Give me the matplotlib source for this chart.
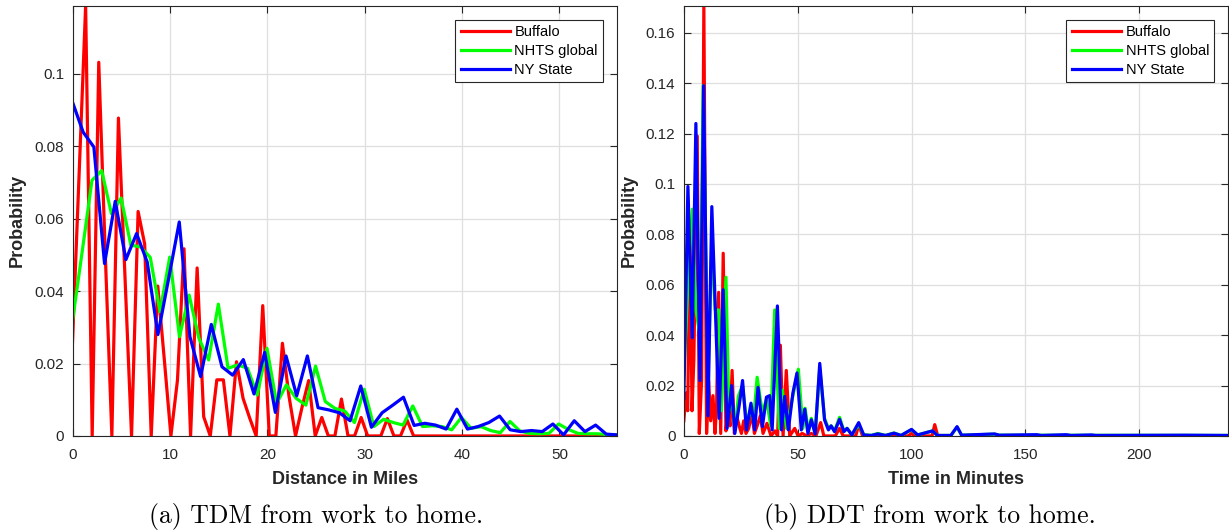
import numpy as np
import matplotlib
matplotlib.use("Agg")
import matplotlib.pyplot as plt

plt.rcParams['font.family'] = ['Liberation Sans', 'DejaVu Sans']

# ---- (a) TDM from work to home: distance in miles ----
dist_max = 55.9
buffalo_tdm = [0.026, 0.072, 0.1188, 0, 0.1032, 0.05, 0, 0.0878, 0.044, 0,
               0.062, 0.053, 0, 0.0414, 0.021, 0, 0.0154, 0.0517, 0, 0.0464,
               0.0053, 0, 0.0155, 0.0155, 0, 0.0205, 0.0104, 0.005, 0, 0.0360,
               0, 0, 0.0256, 0.011, 0, 0.008, 0.0153, 0, 0.0051, 0,
               0, 0.0102, 0, 0, 0.0051, 0, 0, 0, 0.0048, 0,
               0, 0.0044] + [0] * 32
nhts_tdm = [0.0318, 0.051, 0.0706, 0.0733, 0.0614, 0.0657, 0.0527, 0.0522, 0.0493, 0.0343,
            0.0494, 0.0274, 0.0389, 0.027, 0.021, 0.0364, 0.0187, 0.0196, 0.0187, 0.0113,
            0.0242, 0.009, 0.0141, 0.0104, 0.0085, 0.0193, 0.0095, 0.0076, 0.0069, 0.0037,
            0.0129, 0.0026, 0.0046, 0.0037, 0.003, 0.0083, 0.0026, 0.0028, 0.0026, 0.0017,
            0.0051, 0.0021, 0.0026, 0.0015, 0.0009, 0.004, 0.0014, 0.0007, 0.0006, 0.0007,
            0.0033, 0.0018, 0.0007, 0.0006, 0.0006, 0.0004, 0.0003]
nys_tdm = [0.0922, 0.0839, 0.0798, 0.0476, 0.0648, 0.0487, 0.0559, 0.048, 0.028, 0.0434,
           0.0591, 0.0274, 0.0164, 0.0308, 0.0191, 0.0168, 0.0211, 0.0116, 0.0231, 0.0065,
           0.0221, 0.0111, 0.0221, 0.0078, 0.0072, 0.0064, 0.0042, 0.0138, 0.0024, 0.0064,
           0.0085, 0.0107, 0.0029, 0.0035, 0.003, 0.0019, 0.0074, 0.0019, 0.0026, 0.0037,
           0.0055, 0.0017, 0.0012, 0.0015, 0.0012, 0.0033, 0.0003, 0.0042, 0.0012, 0.003,
           0.0005, 0.0003]
x_buffalo_tdm = np.linspace(0, dist_max, len(buffalo_tdm))
x_nhts_tdm = np.linspace(0, dist_max, len(nhts_tdm))
x_nys_tdm = np.linspace(0, dist_max, len(nys_tdm))

# ---- (b) DDT from work to home: time in minutes ----
t_buffalo = [0, 1.0, 1.7, 2.7, 3.6, 4.4, 5.9, 6.8, 7.8, 8.8, 10.0, 10.9, 11.8, 12.8, 13.7,
             14.4, 15.3, 16.2, 17.3, 18.5, 19.4, 20.3, 21.2, 22.2, 23.2, 24.3, 25.3, 26.3,
             27.3, 28.5, 29.9, 31.0, 32.2, 33.6, 34.8, 36.5, 38.3, 40.0, 41.2, 42.4, 43.6,
             45.0, 46.5, 48.7, 50.2, 52.0, 54.0, 56.0, 58.0, 60.1, 61.5, 66.5, 68.4, 70.0,
             75.5, 76.8, 78.5, 98.5, 100.0, 101.5, 109.0, 110.2, 111.5]
p_buffalo = [0.006, 0.017, 0.010, 0.083, 0.010, 0.030, 0.119, 0.001, 0.022, 0.1707, 0.001,
             0.022, 0.006, 0.016, 0.001, 0.012, 0.057, 0.001, 0.0725, 0.002, 0.010, 0.004,
             0.026, 0.001, 0.008, 0.004, 0.001, 0.006, 0.001, 0.003, 0.009, 0.001, 0.004,
             0.008, 0.001, 0.005, 0.0, 0.002, 0.0, 0.036, 0.0, 0.026, 0.0, 0.003, 0.0,
             0.001, 0.0, 0.001, 0.0, 0.0053, 0.0, 0.0, 0.003, 0.0, 0.0, 0.0045, 0.0, 0.0,
             0.001, 0.0, 0.0, 0.0045, 0.0]
t_nhts = [0, 1.8, 3.7, 5.3, 7.1, 8.5, 10.6, 12.3, 13.8, 15.3, 16.5, 18.5, 19.8, 21.0, 22.5,
          24.0, 25.8, 27.5, 29.5, 30.6, 32.2, 34.5, 36.3, 38.2, 39.9, 41.9, 43.3, 45.1,
          47.9, 50.3, 52.3, 53.3, 54.6, 56.0, 57.7, 59.7, 61.8, 63.5, 64.7, 66.2, 68.4,
          70.3, 71.7, 73.8, 76.8, 79.0, 82.3, 85.2, 88.6, 92.3, 95.4, 100.0, 102.7, 109.2,
          111.4, 117.3, 120.0, 122.0, 136.5, 138.5, 239.0]
p_nhts = [0.024, 0.060, 0.090, 0.050, 0.040, 0.139, 0.022, 0.075, 0.050, 0.050, 0.010,
          0.063, 0.010, 0.015, 0.003, 0.016, 0.020, 0.006, 0.010, 0.006, 0.0233, 0.009,
          0.0147, 0.004, 0.050, 0.003, 0.0182, 0.003, 0.016, 0.0265, 0.003, 0.011, 0.002,
          0.007, 0.001, 0.027, 0.007, 0.003, 0.004, 0.002, 0.0074, 0.002, 0.003, 0.0005,
          0.0046, 0.0005, 0.0002, 0.001, 0.0002, 0.0012, 0.0002, 0.0025, 0.0004, 0.002,
          0.0002, 0.0002, 0.0035, 0.0003, 0.0007, 0.0003, 0.0002]
t_nys = [0, 1.8, 3.7, 5.3, 7.1, 8.7, 10.6, 12.3, 15.5, 17.3, 19.0, 21.0, 22.4, 24.3, 25.8,
         27.5, 29.5, 31.1, 32.6, 34.5, 36.3, 37.7, 38.8, 41.1, 42.9, 44.3, 45.9, 47.9, 49.7,
         51.6, 53.1, 54.5, 56.0, 57.7, 59.7, 61.8, 63.5, 64.7, 66.2, 68.4, 70.3, 71.7, 73.8,
         76.8, 79.0, 82.3, 85.2, 88.6, 92.3, 95.4, 100.0, 102.7, 109.2, 111.4, 117.3, 120.0,
         122.0, 136.5, 138.5, 155.0, 157.0, 168.0, 170.0, 179.0, 181.0, 220.0, 239.0]
p_nys = [0.015, 0.099, 0.039, 0.124, 0.022, 0.139, 0.008, 0.091, 0.007, 0.058, 0.003, 0.020,
         0.001, 0.012, 0.022, 0.0024, 0.013, 0.0024, 0.0193, 0.0037, 0.0154, 0.016, 0.0024,
         0.0516, 0.0024, 0.0157, 0.0024, 0.017, 0.025, 0.0024, 0.0106, 0.001, 0.0064,
         0.0008, 0.0288, 0.0064, 0.0024, 0.004, 0.0017, 0.0066, 0.0017, 0.003, 0.0004,
         0.0053, 0.0004, 0.0002, 0.0008, 0.0002, 0.0011, 0.0002, 0.0026, 0.0004, 0.002,
         0.0002, 0.0002, 0.0037, 0.0003, 0.0008, 0.0003, 0.0005, 0.0002, 0.0005, 0.0002,
         0.0004, 0.0002, 0.0003, 0.0002]

series_names = ["Buffalo", "NHTS global", "NY State"]
series_colors = ["#ff0000", "#00ff00", "#0000ff"]

yticks_a = [0, 0.02, 0.04, 0.06, 0.08, 0.1]
yticklabels_a = ["0", "0.02", "0.04", "0.06", "0.08", "0.1"]
xticks_a = [0, 10, 20, 30, 40, 50]
yticks_b = [0, 0.02, 0.04, 0.06, 0.08, 0.1, 0.12, 0.14, 0.16]
yticklabels_b = ["0", "0.02", "0.04", "0.06", "0.08", "0.1", "0.12", "0.14", "0.16"]
xticks_b = [0, 50, 100, 150, 200]

fig = plt.figure(figsize=(12.29, 5.31), dpi=100)
ax1 = fig.add_axes([0.059, 0.179, 0.443, 0.810])
ax2 = fig.add_axes([0.5564, 0.179, 0.4428, 0.810])


def style_axis(ax):
    ax.set_axisbelow(True)
    ax.grid(True, color="#dfdfdf", linewidth=0.9)
    ax.tick_params(direction="in", top=True, right=True, length=5, width=0.8,
                   labelsize=11, colors="#262626", pad=6)
    ax.tick_params(axis="x", pad=9)
    for sp in ax.spines.values():
        sp.set_color("#262626")
        sp.set_linewidth(0.8)


# left panel
ax1.plot(x_buffalo_tdm, buffalo_tdm, color=series_colors[0], lw=2.3, label=series_names[0])
ax1.plot(x_nhts_tdm, nhts_tdm, color=series_colors[1], lw=2.3, label=series_names[1])
ax1.plot(x_nys_tdm, nys_tdm, color=series_colors[2], lw=2.3, label=series_names[2])
ax1.set_xlim(0, dist_max)
ax1.set_ylim(0, max(buffalo_tdm))
ax1.set_xticks(xticks_a)
ax1.set_yticks(yticks_a)
ax1.set_yticklabels(yticklabels_a)
style_axis(ax1)
ax1.set_xlabel("Distance in Miles", fontsize=13, fontweight="bold", color="#262626", labelpad=6)
ax1.set_ylabel("Probability", fontsize=13, fontweight="bold", color="#262626", labelpad=6)

# right panel
ax2.plot(t_buffalo, p_buffalo, color=series_colors[0], lw=2.3, label=series_names[0])
ax2.plot(t_nhts, p_nhts, color=series_colors[1], lw=2.3, label=series_names[1])
ax2.plot(t_nys, p_nys, color=series_colors[2], lw=2.3, label=series_names[2])
ax2.set_xlim(0, 239)
ax2.set_ylim(0, max(p_buffalo))
ax2.set_xticks(xticks_b)
ax2.set_yticks(yticks_b)
ax2.set_yticklabels(yticklabels_b)
style_axis(ax2)
ax2.set_xlabel("Time in Minutes", fontsize=13, fontweight="bold", color="#262626", labelpad=6)
ax2.set_ylabel("Probability", fontsize=13, fontweight="bold", color="#262626", labelpad=6)

for ax in (ax1, ax2):
    leg = ax.legend(loc="upper right", fontsize=10.5, handlelength=3.4, labelspacing=0.35,
                    borderaxespad=0.95, fancybox=False, framealpha=1, borderpad=0.35,
                    handletextpad=0.3)
    leg.get_frame().set_edgecolor("#262626")
    leg.get_frame().set_linewidth(0.8)

# subfigure captions
fig.text(0.257, 0.016, "(a) TDM from work to home.", fontfamily="cmr10", fontsize=18.5,
         ha="center", va="baseline")
fig.text(0.757, 0.016, "(b) DDT from work to home.", fontfamily="cmr10", fontsize=18.5,
         ha="center", va="baseline")

fig.savefig("out.png", dpi=100)
